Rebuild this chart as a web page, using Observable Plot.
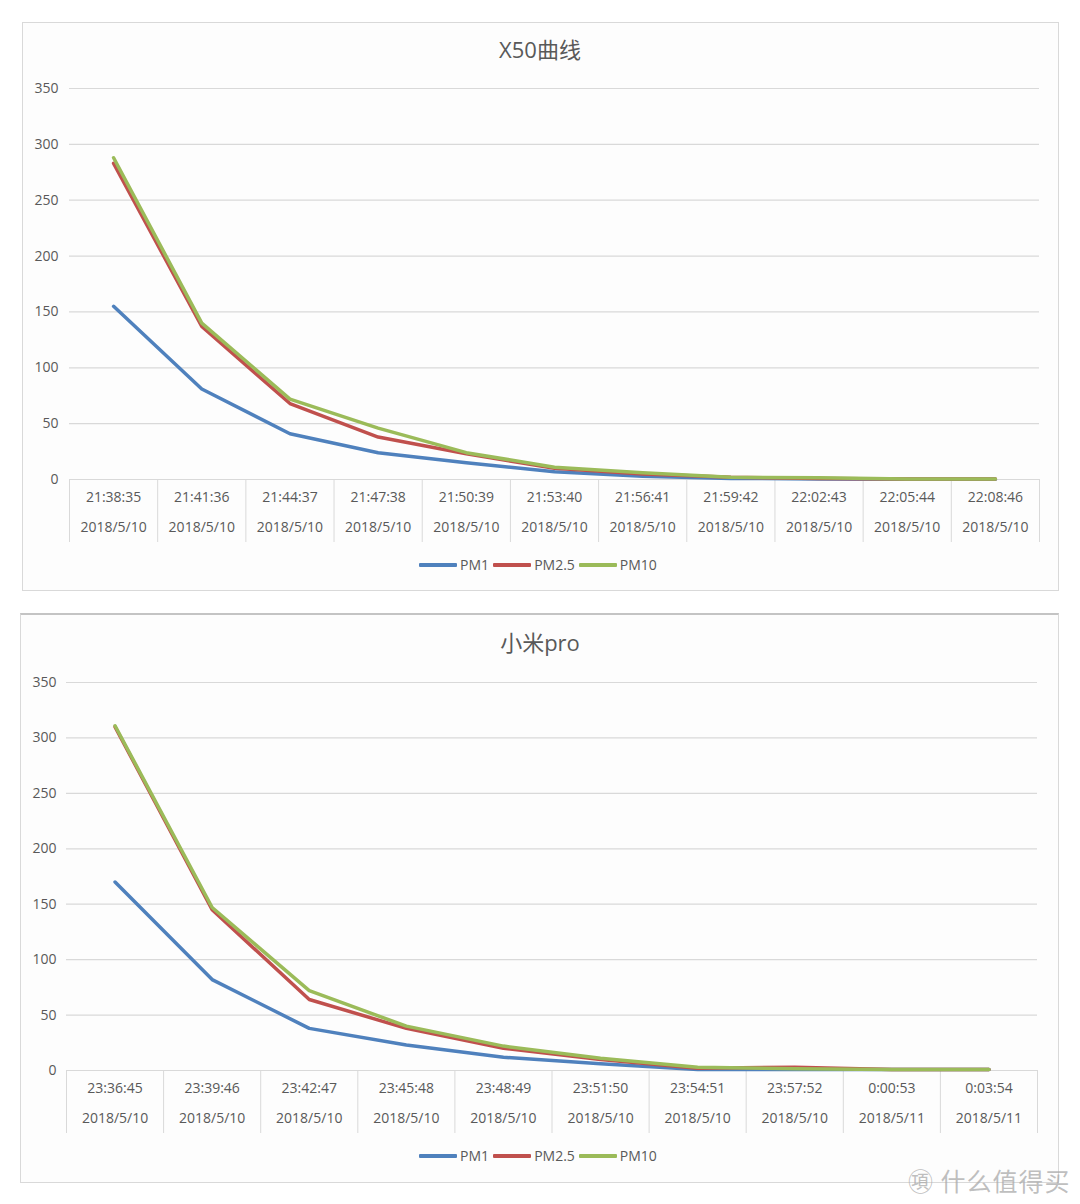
<!DOCTYPE html>
<html>
<head>
<meta charset="utf-8">
<script src="https://cdn.jsdelivr.net/npm/d3@7"></script>
<script src="https://cdn.jsdelivr.net/npm/@observablehq/plot@0.6"></script>
<style>
  html, body { margin: 0; padding: 0; background: #ffffff; }
  #page { position: relative; width: 1080px; height: 1204px; overflow: hidden;
          font-family: "Open Sans", "Noto Sans", "Noto Sans CJK SC", sans-serif; color: #595959; }
  .frame { position: absolute; background: #fdfdfd; box-sizing: border-box; }
  .title { position: absolute; left: 0; width: 1080px; text-align: center; font-size: 22px;
           font-family: "Open Sans", "Noto Sans CJK SC", sans-serif; color: #595959; line-height: 1; }
  .plot { position: absolute; left: 0; }
  .legend { position: absolute; left: 0; width: 1080px; display: flex; justify-content: center;
            align-items: center; font-size: 14px; color: #595959; line-height: 1; }
  .legend .sw { display: inline-block; width: 38px; height: 3.5px; margin-right: 3px; border-radius: 1px; }
  .legend .it { display: inline-flex; align-items: center; margin-right: 4px; }
  .wm { position: absolute; font-size: 25px; color: rgba(170,170,170,0.75);
        font-family: "Noto Sans CJK SC", sans-serif; letter-spacing: 1px; }
</style>
</head>
<body>
<div id="page">
  <div class="frame" style="left:22px; top:22px; width:1037px; height:569px; border:1px solid #d9d9d9;"></div>
  <div class="frame" style="left:20px; top:613px; width:1039px; height:570px; border:1px solid #d9d9d9; border-top:2px solid #c4c4c4;"></div>
  <div class="title" style="top:38px;">X50曲线</div>
  <div class="title" style="top:631px;">小米pro</div>
  <div class="plot" id="top" style="top:70px;"></div>
  <div class="plot" id="bottom" style="top:664px;"></div>
  <div class="legend" id="legTop" style="top:558px;"></div>
  <div class="legend" id="legBottom" style="top:1149px;"></div>
  <div class="wm" style="left:908px; top:1162px;">㊠ 什么值得买</div>
</div>
<script>
// ---- data ----
const seriesNames = ["PM1", "PM2.5", "PM10"];
const seriesColors = ["#4F81BD", "#C0504D", "#9BBB59"];
const yTicks = [0, 50, 100, 150, 200, 250, 300, 350];

const x50Times = ["21:38:35","21:41:36","21:44:37","21:47:38","21:50:39","21:53:40","21:56:41","21:59:42","22:02:43","22:05:44","22:08:46"];
const x50Dates = ["2018/5/10","2018/5/10","2018/5/10","2018/5/10","2018/5/10","2018/5/10","2018/5/10","2018/5/10","2018/5/10","2018/5/10","2018/5/10"];
const x50PM1  = [155, 81, 41, 24, 15, 7, 3, 1, 0.5, 0.3, 0.3];
const x50PM25 = [283, 137, 68, 38, 23, 10, 5, 2, 1, 0.5, 0.5];
const x50PM10 = [288, 140, 72, 46, 24, 11, 6, 2, 1.5, 0.5, 0.5];

const miTimes = ["23:36:45","23:39:46","23:42:47","23:45:48","23:48:49","23:51:50","23:54:51","23:57:52","0:00:53","0:03:54"];
const miDates = ["2018/5/10","2018/5/10","2018/5/10","2018/5/10","2018/5/10","2018/5/10","2018/5/10","2018/5/10","2018/5/11","2018/5/11"];
const miPM1  = [170, 82, 38, 23, 12, 6, 1, 1, 1, 1];
const miPM25 = [310, 145, 64, 38, 20, 10, 2, 3, 1, 1];
const miPM10 = [311, 147, 72, 40, 22, 11, 3, 1.5, 1, 1];

function chart({times, dates, values, height, marginBottom, marginLeft, marginRight, tickPadding}) {
  const n = times.length;
  const rows = [];
  seriesNames.forEach((s, k) => values[k].forEach((v, i) => rows.push({i, v, s})));
  const idx = d3.range(n);
  const edges = d3.range(n + 1).map(i => i - 0.5);
  return Plot.plot({
    width: 1080, height, marginTop: 18, marginBottom, marginLeft, marginRight,
    style: {fontSize: "14px", fontFamily: '"Open Sans", "Noto Sans", sans-serif', color: "#595959", background: "transparent", overflow: "visible"},
    x: {type: "linear", domain: [-0.5, n - 0.5], label: null},
    y: {domain: [0, 350], label: null},
    color: {domain: seriesNames, range: seriesColors},
    marks: [
      Plot.gridY(yTicks, {stroke: "#d9d9d9", strokeOpacity: 1, strokeWidth: 1.2}),
      Plot.axisY(yTicks, {tickSize: 0, tickPadding, fill: "#595959", label: null}),
      Plot.axisX(edges, {tickSize: 63, tickFormat: () => "", stroke: "#d9d9d9", strokeOpacity: 1, label: null}),
      Plot.ruleY([0], {stroke: "#d9d9d9", strokeWidth: 1.2}),
      Plot.line(rows, {x: "i", y: "v", z: "s", stroke: "s", strokeWidth: 3.5, strokeLinejoin: "round", strokeLinecap: "round"}),
      Plot.text(idx, {x: d => d, text: d => times[d], frameAnchor: "bottom", dy: 22, fill: "#595959"}),
      Plot.text(idx, {x: d => d, text: d => dates[d], frameAnchor: "bottom", dy: 52, fill: "#595959"})
    ]
  });
}

function legend(el) {
  seriesNames.forEach((s, k) => {
    const it = document.createElement("span");
    it.className = "it";
    const sw = document.createElement("span");
    sw.className = "sw";
    sw.style.background = seriesColors[k];
    const tx = document.createElement("span");
    tx.textContent = s;
    it.appendChild(sw); it.appendChild(tx);
    el.appendChild(it);
  });
}

document.getElementById("top").appendChild(chart({
  times: x50Times, dates: x50Dates, values: [x50PM1, x50PM25, x50PM10],
  height: 480, marginBottom: 71, marginLeft: 69, marginRight: 41, tickPadding: 11
}));
document.getElementById("bottom").appendChild(chart({
  times: miTimes, dates: miDates, values: [miPM1, miPM25, miPM10],
  height: 478, marginBottom: 72, marginLeft: 66, marginRight: 43, tickPadding: 10
}));
legend(document.getElementById("legTop"));
legend(document.getElementById("legBottom"));
</script>
</body>
</html>
